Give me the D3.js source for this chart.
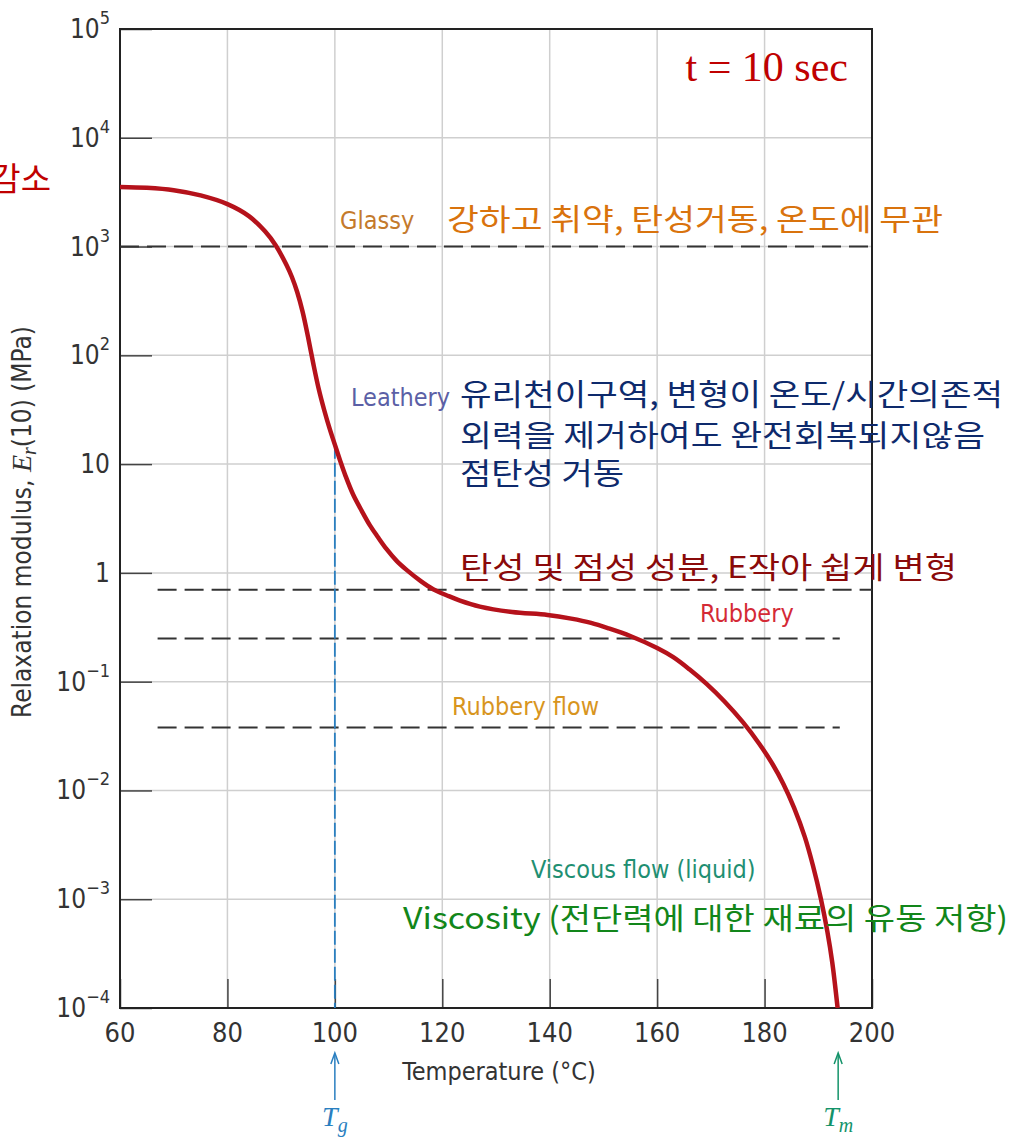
<!DOCTYPE html>
<html>
<head>
<meta charset="utf-8">
<script src="https://cdn.jsdelivr.net/npm/d3@7"></script>
<style>
  body { margin: 0; background: #fff; }
  svg { display: block; }
  .cond { font-family: "Liberation Sans Narrow", "DejaVu Sans Condensed", Roboto, sans-serif; }
  .kr { font-family: "Noto Sans CJK KR", "Noto Sans", sans-serif; }
</style>
</head>
<body>
<div id="chart"></div>
<script>
// temperature (°C) and relaxation modulus Er(10) (MPa)
const temps = [60, 65, 70, 75, 80, 84, 87, 89, 91, 92, 93, 94, 95, 96, 97, 98, 99, 100, 101, 102, 103.4, 105, 106.5, 108, 109.6, 111.5, 113.4, 116, 118.3, 121, 123.3, 127, 133, 139.6, 144, 147.7, 151, 155, 160, 163, 166, 169.2, 172.5, 176, 179, 181.5, 183.5, 185.5, 187.5, 189, 190.5, 191.7, 192.6, 193.6];
const modulus = [3532, 3467, 3296, 2951, 2455, 1905, 1380, 1023, 676, 525, 380, 251, 148, 83.2, 49.0, 31.6, 21.4, 15.1, 10.7, 7.76, 5.25, 3.72, 2.75, 2.14, 1.66, 1.29, 1.06, 0.841, 0.708, 0.617, 0.556, 0.490, 0.437, 0.411, 0.380, 0.347, 0.309, 0.263, 0.204, 0.168, 0.130, 0.0955, 0.0661, 0.0422, 0.0269, 0.0174, 0.01148, 0.00692, 0.00372, 0.00204, 0.001, 0.000501, 0.000263, 0.0001];

const xTicks = [60, 80, 100, 120, 140, 160, 180, 200];
const yTicks = [1e5, 1e4, 1e3, 1e2, 10, 1, 0.1, 0.01, 0.001, 0.0001];
const yTickLabels = [["10", "5"], ["10", "4"], ["10", "3"], ["10", "2"], ["10", ""], ["1", ""], ["10", "\u22121"], ["10", "\u22122"], ["10", "\u22123"], ["10", "\u22124"]];

// region boundaries (dashed) : [modulus, x-start temp, x-end temp]
const bounds = [[1000, 60, 200], [0.7, 67, 200], [0.25, 67, 194], [0.038, 67, 194]];
const Tg = 100, Tm = 193.7;

const svgWidth = 1013, svgHeight = 1139;
const margin = { top: 29, right: 141, bottom: 131, left: 120 };
const width = svgWidth - margin.left - margin.right;
const height = svgHeight - margin.top - margin.bottom;

const svg = d3.select("#chart").append("svg")
    .attr("width", svgWidth)
    .attr("height", svgHeight);

const g = svg.append("g")
    .attr("transform", `translate(${margin.left},${margin.top})`);

const x = d3.scaleLinear().domain([60, 200]).range([0, width]);
const y = d3.scaleLog().domain([1e-4, 1e5]).range([height, 0]);

// grid
g.append("g").selectAll("line").data(xTicks.slice(1, -1)).join("line")
    .attr("x1", d => x(d)).attr("x2", d => x(d))
    .attr("y1", 0).attr("y2", height)
    .attr("stroke", "#cfcfcf").attr("stroke-width", 1.5);
g.append("g").selectAll("line").data(yTicks.slice(1, -1)).join("line")
    .attr("x1", 0).attr("x2", width)
    .attr("y1", d => y(d)).attr("y2", d => y(d))
    .attr("stroke", "#cfcfcf").attr("stroke-width", 1.5);

// axes with inner ticks
const yAxis = g.append("g")
    .call(d3.axisLeft(y).tickValues(yTicks).tickSize(-32).tickFormat(""));
const xAxis = g.append("g")
    .attr("transform", `translate(0,${height})`)
    .call(d3.axisBottom(x).tickValues(xTicks).tickSize(-29).tickFormat(""));
[xAxis, yAxis].forEach(a => {
  a.select(".domain").remove();
  a.selectAll(".tick line").attr("stroke", "#444").attr("stroke-width", 1.5);
});

g.append("rect")
    .attr("width", width).attr("height", height)
    .attr("fill", "none").attr("stroke", "#222").attr("stroke-width", 2);

// y tick labels
svg.append("g").selectAll("text").data(yTicks).join("text")
    .attr("class", "cond")
    .attr("x", 110)
    .attr("y", d => margin.top + y(d) + 9)
    .attr("text-anchor", "end")
    .attr("fill", "#333")
    .attr("font-size", 26)
    .each(function (d, i) {
      const t = d3.select(this);
      const [base, sup] = yTickLabels[i];
      t.append("tspan").text(base);
      if (sup) t.append("tspan").attr("font-size", 18).attr("dy", -14).text(sup);
    });

// x tick labels
svg.append("g").selectAll("text").data(xTicks).join("text")
    .attr("class", "cond")
    .attr("x", d => margin.left + x(d))
    .attr("y", 1042)
    .attr("text-anchor", "middle")
    .attr("fill", "#333")
    .attr("font-size", 27)
    .text(d => d);

svg.append("text").attr("class", "cond")
    .attr("x", 499).attr("y", 1080)
    .attr("text-anchor", "middle").attr("fill", "#333").attr("font-size", 25)
    .text("Temperature (\u00B0C)");

const yt = svg.append("text").attr("class", "cond")
    .attr("transform", "translate(31,522) rotate(-90)")
    .attr("text-anchor", "middle").attr("fill", "#333").attr("font-size", 26);
yt.append("tspan").text("Relaxation modulus, ");
yt.append("tspan").attr("font-family", "Liberation Serif, serif").attr("font-style", "italic").attr("font-size", 28).text("E");
yt.append("tspan").attr("font-family", "Liberation Serif, serif").attr("font-style", "italic").attr("font-size", 20).attr("dy", 5).text("r");
yt.append("tspan").attr("dy", -5).text("(10) (MPa)");

// dashed region boundaries
g.append("g").selectAll("line").data(bounds).join("line")
    .attr("x1", d => x(d[1])).attr("x2", d => x(d[2]))
    .attr("y1", d => y(d[0])).attr("y2", d => y(d[0]))
    .attr("stroke", "#333").attr("stroke-width", 2)
    .attr("stroke-dasharray", "19,8");

// Tg dashed line
const tgIdx = d3.bisectLeft(temps, Tg);
const tgMod = modulus[tgIdx];
g.append("line")
    .attr("x1", x(Tg)).attr("x2", x(Tg))
    .attr("y1", y(tgMod)).attr("y2", height)
    .attr("stroke", "#2a7fc0").attr("stroke-width", 1.8)
    .attr("stroke-dasharray", "14,4");

// curve
g.append("clipPath").attr("id", "clip").append("rect").attr("width", width).attr("height", height);
const line = d3.line()
    .x((d, i) => x(temps[i]))
    .y(d => y(d))
    .curve(d3.curveCatmullRom.alpha(0.5));
g.append("path")
    .datum(modulus)
    .attr("clip-path", "url(#clip)")
    .attr("d", line)
    .attr("fill", "none")
    .attr("stroke", "#b5121b")
    .attr("stroke-width", 4.5);

// region labels (english)
const labels = [
  ["Glassy", 340, 229, "#c47a2c"],
  ["Leathery", 351, 406, "#5b5fa6"],
  ["Rubbery", 700, 622, "#d42a36"],
  ["Rubbery flow", 452, 715, "#d8951e"],
  ["Viscous flow (liquid)", 531, 878, "#1f8f72"]
];
svg.append("g").selectAll("text").data(labels).join("text")
    .attr("class", "cond")
    .attr("x", d => d[1]).attr("y", d => d[2])
    .attr("fill", d => d[3]).attr("font-size", 25)
    .text(d => d[0]);

// korean notes
const notes = [
  ["강하고 취약, 탄성거동, 온도에 무관", 447, 230, "#d9730d", 943],
  ["유리천이구역, 변형이 온도/시간의존적", 460, 405, "#0e2a6c", 1003],
  ["외력을 제거하여도 완전회복되지않음", 460, 446, "#0e2a6c", 985],
  ["점탄성 거동", 460, 484, "#0e2a6c", 624],
  ["탄성 및 점성 성분, E작아 쉽게 변형", 460, 578, "#8a0a0a", 957],
  ["Viscosity (전단력에 대한 재료의 유동 저항)", 403, 929, "#12861a", 1008]
];
svg.append("g").selectAll("text").data(notes).join("text")
    .attr("class", "kr")
    .attr("x", d => d[1]).attr("y", d => d[2])
    .attr("fill", d => d[3]).attr("font-size", 30)
    .attr("textLength", d => d[4] - d[1])
    .attr("lengthAdjust", "spacingAndGlyphs")
    .text(d => d[0]);

svg.append("text").attr("class", "kr")
    .attr("x", 51).attr("y", 191).attr("text-anchor", "end")
    .attr("fill", "#c00000").attr("font-size", 33).text("감소");

svg.append("text")
    .attr("x", 848).attr("y", 81).attr("text-anchor", "end")
    .attr("font-family", "Liberation Serif, Times New Roman, serif")
    .attr("fill", "#c00000").attr("font-size", 42)
    .text("t = 10 sec");

// Tg / Tm markers
const markers = [[Tg, "g", "#2a7fc0"], [Tm, "m", "#14936a"]];
markers.forEach(([t, sub, col]) => {
  const cx = margin.left + x(t);
  svg.append("line").attr("x1", cx).attr("x2", cx).attr("y1", 1100).attr("y2", 1054)
      .attr("stroke", col).attr("stroke-width", 1.5);
  svg.append("path").attr("d", `M${cx - 4},${1064} L${cx},${1053} L${cx + 4},${1064}`)
      .attr("fill", "none").attr("stroke", col).attr("stroke-width", 1.5);
  const lab = svg.append("text").attr("x", cx).attr("y", 1126).attr("text-anchor", "middle")
      .attr("font-family", "Liberation Serif, serif").attr("font-style", "italic")
      .attr("fill", col).attr("font-size", 28);
  lab.append("tspan").text("T");
  lab.append("tspan").attr("font-size", 20).attr("dy", 6).text(sub);
});
</script>
</body>
</html>
